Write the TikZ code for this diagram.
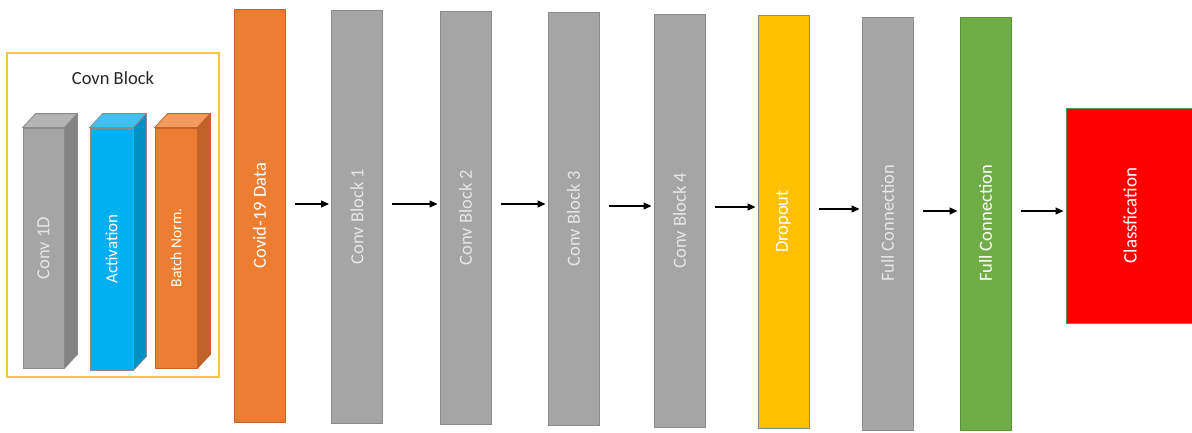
\documentclass[tikz,border=0pt]{standalone}
\usepackage{fontspec}
\setmainfont{Carlito}
\usetikzlibrary{arrows.meta,calc}

\definecolor{grayfront}{HTML}{A5A5A5}
\definecolor{grayside}{HTML}{838383}
\definecolor{graytop}{HTML}{B4B4B4}
\definecolor{grayedge}{HTML}{8A8A8A}
\definecolor{bluefront}{HTML}{00B0F0}
\definecolor{blueside}{HTML}{0090C4}
\definecolor{bluetop}{HTML}{3DC3F3}
\definecolor{orangefront}{HTML}{ED7D31}
\definecolor{orangeside}{HTML}{C0622A}
\definecolor{orangetop}{HTML}{F19B5E}
\definecolor{orangeedge}{HTML}{C8612A}
\definecolor{dropfill}{HTML}{FFC000}
\definecolor{greenfill}{HTML}{70AD47}
\definecolor{greenedge}{HTML}{5A9238}
\definecolor{redfill}{HTML}{FF0000}
\definecolor{frameedge}{HTML}{F4C542}
\definecolor{titletext}{HTML}{262626}
\definecolor{softwhite}{HTML}{E6E6E6}

\begin{document}
\begin{tikzpicture}[x=1pt,y=-1pt,
  bar/.style={draw=grayedge, line width=1pt, inner sep=0pt, minimum width=51pt,
              minimum height=413pt, font=\fontsize{18.5}{20}\selectfont, text=white},
  graybar/.style={bar, fill=grayfront, text=softwhite},
  face/.style={draw=grayedge, line width=0.8pt, inner sep=0pt, minimum width=41pt,
               minimum height=240pt, text=white},
  arr/.style={line width=1.2pt, -{Triangle[length=8pt,width=7pt]}},
]
\useasboundingbox (0,0) rectangle (1192,432);

% ---- legend: building blocks of one convolution block ----
\node[draw=frameedge, line width=1.3pt, minimum width=212pt, minimum height=324pt,
      inner sep=0pt] (frame) at (113,215) {};
\node[text=titletext, font=\fontsize{18.5}{20}\selectfont] (title) at (113,78) {Covn Block};

% cuboid: front face node + top and side faces
\node[face, fill=grayfront, text=softwhite, font=\fontsize{18.5}{20}\selectfont]
  (conv) at (43.5,248) {\rotatebox{90}{Conv 1D}};
\node[face, fill=bluefront, minimum width=43pt, minimum height=242pt,
      font=\fontsize{17}{19}\selectfont]
  (act) at (111.5,249) {\rotatebox{90}{Activation}};
\node[face, fill=orangefront, draw=orangeedge, minimum width=42pt,
      font=\fontsize{15.5}{17}\selectfont]
  (bn) at (176,248) {\rotatebox{90}{Batch Norm.}};

\foreach \n/\t/\s/\e in {conv/graytop/grayside/grayedge,
                         act/bluetop/blueside/grayedge,
                         bn/orangetop/orangeside/orangeedge}{
  \draw[draw=\e, line width=0.8pt, fill=\t]
    (\n.north west) -- ++(13,-14) -- ($(\n.north east)+(13,-14)$) -- (\n.north east) -- cycle;
  \draw[draw=\e, line width=0.8pt, fill=\s]
    (\n.north east) -- ++(13,-14) -- ($(\n.south east)+(13,-14)$) -- (\n.south east) -- cycle;
}

% ---- network pipeline ----
\node[bar, fill=orangefront, draw=orangeedge] (data) at (259.5,215.5) {\rotatebox{90}{Covid-19 Data}};
\node[graybar] (cb1) at (357,216.5) {\rotatebox{90}{Conv Block 1}};
\node[graybar] (cb2) at (465.5,217.5) {\rotatebox{90}{Conv Block 2}};
\node[graybar] (cb3) at (573.5,218.5) {\rotatebox{90}{Conv Block 3}};
\node[graybar] (cb4) at (679.5,220.5) {\rotatebox{90}{Conv Block 4}};
\node[bar, fill=dropfill] (drop) at (783.5,221.5) {\rotatebox{90}{Dropout}};
\node[graybar] (fc1) at (887.5,223.5) {\rotatebox{90}{Full Connection}};
\node[bar, fill=greenfill, draw=greenedge] (fc2) at (985.5,223.5) {\rotatebox{90}{Full Connection}};
\node[bar, fill=redfill, draw=greenedge!60!gray, minimum width=128pt, minimum height=215pt,
      font=\fontsize{19}{21}\selectfont] (cls) at (1130,215.5) {\rotatebox{90}{Classfication}};

% ---- connectors ----
\foreach \a/\b/\y in {data/cb1/204, cb1/cb2/204, cb2/cb3/204, cb3/cb4/206,
                      cb4/drop/207, drop/fc1/209, fc1/fc2/211, fc2/cls/211}{
  \draw[arr, shorten <=9pt, shorten >=2pt] (\a.east |- 0,\y) -- (\b.west |- 0,\y);
}
\end{tikzpicture}
\end{document}
